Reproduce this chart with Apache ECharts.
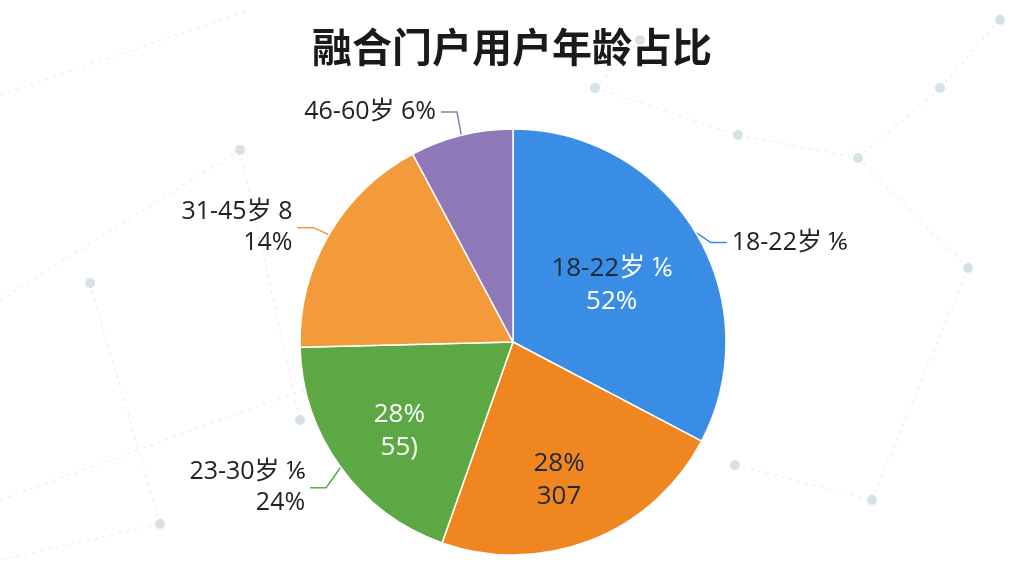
<!DOCTYPE html>
<html><head><meta charset="utf-8">
<script src="https://cdn.jsdelivr.net/npm/echarts@6/dist/echarts.min.js"></script>
<style>html,body{margin:0;padding:0;background:#fff}#c{width:1024px;height:576px}</style>
</head><body><div id="c"></div>
<script>
var titleText = '融合门户用户年龄占比';
var categories = ['18-22岁', '23-37岁', '23-30岁', '31-45岁', '46-60岁'];
var values = [32.7, 22.7, 19.2, 17.6, 7.8];
var colors = ['#3a8de4', '#f0861f', '#5ca845', '#f39a3a', '#9079b8'];
var outsideLabels = ['18-22岁 ⅙', '', '23-30岁 ⅙\n24%', '31-45岁 8\n14%', '46-60岁 6%'];
var insideLabels = ['{d|18-22}{w|岁 ⅙}\n{w|52%}', '{d|28%}\n{d|307}', '{w|28%}\n{w|55)}', '', ''];
var labelNudgeY = [20, 0, 10, 2, -6];

var chart = echarts.init(document.getElementById('c'));
var font = '"Open Sans", "Noto Sans CJK SC", sans-serif';
var titleFont = '"Noto Sans CJK SC", sans-serif';
var outerData = categories.map(function (n, i) {
  return { name: n, value: values[i], itemStyle: { color: colors[i] },
    label: { show: outsideLabels[i] !== '', formatter: outsideLabels[i] },
    labelLine: { show: outsideLabels[i] !== '', lineStyle: { color: colors[i] } } };
});
var innerOffsets = [[-28, 20], [-8, 0], [6, 2], [0, 0], [0, 0]];
var innerData = categories.map(function (n, i) {
  return { name: n, value: values[i],
    label: { show: insideLabels[i] !== '', formatter: insideLabels[i], offset: innerOffsets[i] } };
});

// decorative background network
var dots = [[90,283],[240,150],[595,88],[738,135],[858,158],[940,88],[968,268],[160,524],[735,465],[872,500],[300,420],[640,40],[1000,20]];
var segs = [[0,95,250,10],[0,300,240,150],[240,150,300,420],[595,88,738,135],[738,135,858,158],[858,158,940,88],[858,158,968,268],[968,268,872,500],[735,465,872,500],[160,524,0,560],[90,283,160,524],[640,40,595,88],[940,88,1000,20],[0,500,330,380]];
var graphics = [];
segs.forEach(function (s) {
  graphics.push({ type: 'line', silent: true, z: -10, shape: { x1: s[0], y1: s[1], x2: s[2], y2: s[3] },
    style: { stroke: '#e8eef2', lineWidth: 1.2, lineDash: [3, 5] } });
});
dots.forEach(function (d) {
  graphics.push({ type: 'circle', silent: true, z: -10, shape: { cx: d[0], cy: d[1], r: 5 },
    style: { fill: '#d6e1e8' } });
});

function nudge(p) {
  var dy = labelNudgeY[p.dataIndex] || 0;
  var res = { dy: dy };
  var pts = p.labelLinePoints;
  if (pts && pts.length === 3 && dy) {
    res.labelLinePoints = [pts[0].slice(), [pts[1][0], pts[1][1] + dy], [pts[2][0], pts[2][1] + dy]];
  }
  return res;
}

chart.setOption({
  backgroundColor: '#ffffff',
  animation: false,
  title: { text: titleText, left: 'center', top: 22,
    textStyle: { fontFamily: titleFont, fontSize: 40, fontWeight: 'bold', color: '#1a1a1a' } },
  graphic: graphics,
  series: [{
    type: 'pie', center: [513, 342], radius: 213, startAngle: 90, clockwise: true,
    itemStyle: { borderColor: '#ffffff', borderWidth: 1.5 },
    label: { position: 'outside', fontFamily: font, fontSize: 25, color: '#222', lineHeight: 31, align: 'center' },
    labelLine: { length: 18, length2: 16, lineStyle: { width: 1.5 } },
    labelLayout: nudge,
    data: outerData
  }, {
    type: 'pie', center: [513, 342], radius: [80, 210], startAngle: 90, clockwise: true, silent: true,
    itemStyle: { color: 'rgba(0,0,0,0)' },
    label: { position: 'inside', fontFamily: font, fontSize: 26, lineHeight: 33,
      rich: { d: { color: '#1e2a33', fontSize: 26, fontFamily: font }, w: { color: '#ffffff', fontSize: 26, fontFamily: font } } },
    labelLine: { show: false },
    data: innerData
  }]
});
</script></body></html>
